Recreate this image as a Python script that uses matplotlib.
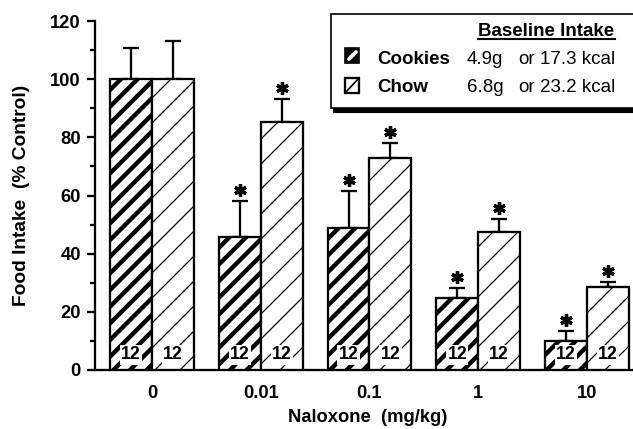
import matplotlib
matplotlib.use("Agg")
import matplotlib.pyplot as plt
from matplotlib.patches import Rectangle
from matplotlib.lines import Line2D
import numpy as np

doses = ['0', '0.01', '0.1', '1', '10']
cookies = [100, 45.7, 48.8, 24.8, 10.0]
cookies_err = [10.7, 12.3, 12.7, 3.5, 3.5]
chow = [100, 85.2, 73.0, 47.5, 28.4]
chow_err = [13.0, 7.9, 5.0, 4.3, 1.9]
cookies_sig = [False, True, True, True, True]
chow_sig = [False, True, True, True, True]
n_rats = ['12', '12', '12', '12', '12']

plt.rcParams['font.family'] = ['Liberation Sans', 'DejaVu Sans']
DPI = 150
W, H = 633, 429


def px(x, y):
    # pixel position (from top-left) -> figure fraction
    return x / W, 1 - y / H


fig = plt.figure(figsize=(W / DPI, H / DPI), dpi=DPI)
ax = fig.add_axes([95 / W, 1 - 370 / H, (W - 95) / W, (370 - 21) / H])

x = np.arange(len(doses))
w = 0.386

with plt.rc_context({'hatch.linewidth': 2.1}):
    b1 = ax.bar(x - w, cookies, w, align='edge', facecolor='white',
                edgecolor='black', linewidth=1.1, hatch='///', zorder=3)
with plt.rc_context({'hatch.linewidth': 0.6}):
    b2 = ax.bar(x, chow, w, align='edge', facecolor='white',
                edgecolor='black', linewidth=1.1, hatch='//', zorder=3)

ax.errorbar(x - w / 2, cookies, yerr=[np.zeros(len(x)), cookies_err], fmt='none',
            ecolor='black', elinewidth=1.1, capsize=3.9, capthick=1.1, zorder=2)
ax.errorbar(x + w / 2, chow, yerr=[np.zeros(len(x)), chow_err], fmt='none',
            ecolor='black', elinewidth=1.1, capsize=3.9, capthick=1.1, zorder=2)

# significance stars
for xs, vals, errs, sig in [(x - w / 2, cookies, cookies_err, cookies_sig),
                            (x + w / 2, chow, chow_err, chow_sig)]:
    for xi, v, e, s in zip(xs, vals, errs, sig):
        if s:
            ax.plot(xi, v + e + 3.8, marker=(6, 2, 0), ms=6, mew=1.6,
                    color='black', zorder=4)

# n labels
for xs in (x - w / 2, x + w / 2):
    for xi, n in zip(xs, n_rats):
        ax.text(xi, 5.2, n, ha='center', va='center', fontsize=8.5,
                fontweight='bold', zorder=5,
                bbox=dict(facecolor='white', edgecolor='none', pad=0.6))

ax.set_xlim(-0.524, 4.423)
ax.set_ylim(0, 120)
ax.set_yticks(np.arange(0, 121, 20))
ax.set_yticks(np.arange(10, 120, 20), minor=True)
ax.set_xticks(x)
ax.set_xticklabels(doses)
for s in ('top', 'right'):
    ax.spines[s].set_visible(False)
for s in ('left', 'bottom'):
    ax.spines[s].set_linewidth(1.1)
ax.tick_params(axis='y', which='major', direction='out', length=3.8, width=1.1,
               pad=3.0, labelsize=8.8)
ax.tick_params(axis='y', which='minor', direction='out', length=2.4, width=1.1)
ax.tick_params(axis='x', length=0, pad=7.0, labelsize=8.8)
for lab in ax.get_xticklabels() + ax.get_yticklabels():
    lab.set_fontweight('bold')

fig.text(*px(368, 418), 'Naloxone  (mg/kg)', ha='center', va='center',
         fontsize=8.8, fontweight='bold')
fig.text(*px(22, 195), 'Food Intake  (% Control)', ha='center', va='center',
         rotation=90, fontsize=9.2, fontweight='bold')

# legend box with shadow
x0, y0 = px(331, 108)
x1, y1 = px(640, 14)
sx, sy = 3 / W, 4 / H
fig.add_artist(Rectangle((x0 + sx, y0 - sy), x1 - x0, y1 - y0,
                         transform=fig.transFigure, facecolor='black',
                         edgecolor='black', zorder=6))
fig.add_artist(Rectangle((x0, y0), x1 - x0, y1 - y0, transform=fig.transFigure,
                         facecolor='white', edgecolor='black', linewidth=0.8,
                         zorder=7))

fig.text(*px(478, 32), 'Baseline Intake', ha='left', va='center', fontsize=9,
         fontweight='bold', zorder=8)
fig.add_artist(Line2D([478 / W, 615 / W], [1 - 38.5 / H] * 2,
                      transform=fig.transFigure, color='black', lw=1.0,
                      zorder=8))

rows = [('Cookies', '4.9g', '17.3 kcal', 59),
        ('Chow', '6.8g', '23.2 kcal', 88)]
for name, g, kcal, yy in rows:
    fig.text(*px(377, yy), name, ha='left', va='center', fontsize=9,
             fontweight='bold', zorder=8)
    fig.text(*px(467, yy), g, ha='left', va='center', fontsize=9, zorder=8)
    fig.text(*px(518, yy), 'or', ha='left', va='center', fontsize=9, zorder=8)
    fig.text(*px(540, yy), kcal, ha='left', va='center', fontsize=9, zorder=8)

# legend swatches
sq = 14
cx, cy = px(345, 63)
fig.add_artist(Rectangle((cx, cy), sq / W, 15 / H, transform=fig.transFigure,
                         facecolor='black', edgecolor='black', lw=0.8, zorder=8))
fig.add_artist(Line2D([349 / W, 356 / W], [1 - 59 / H, 1 - 52 / H],
                      transform=fig.transFigure, color='white', lw=1.8,
                      solid_capstyle='round', zorder=9))
hx, hy = px(345, 93)
fig.add_artist(Rectangle((hx, hy), sq / W, 15 / H, transform=fig.transFigure,
                         facecolor='white', edgecolor='black', lw=1.1, zorder=8))
fig.add_artist(Line2D([345 / W, 359 / W], [1 - 93 / H, 1 - 78 / H],
                      transform=fig.transFigure, color='black', lw=0.8,
                      zorder=9))

fig.savefig('out.png', dpi=DPI)
